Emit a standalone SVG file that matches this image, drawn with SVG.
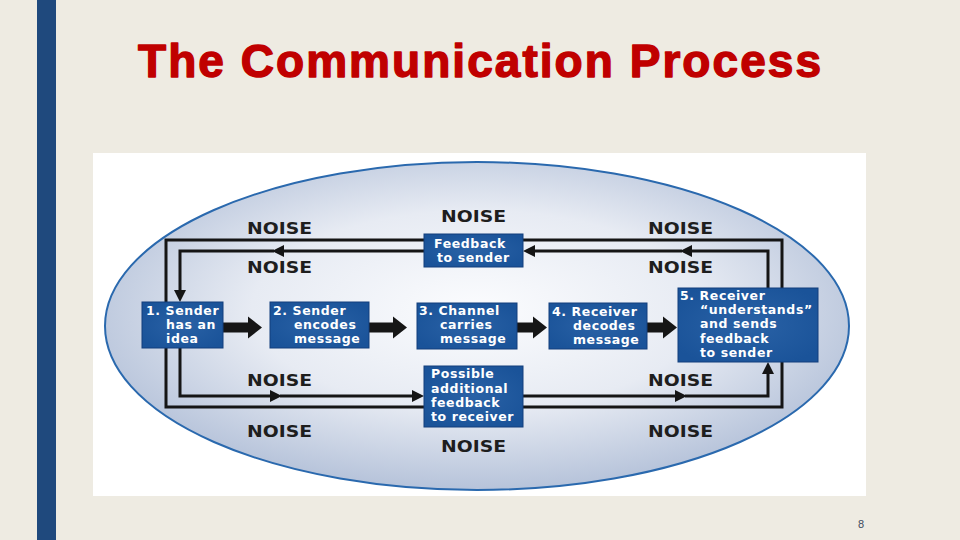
<svg xmlns="http://www.w3.org/2000/svg" width="960" height="540" viewBox="0 0 960 540">
<style>
.noise{font-family:"DejaVu Sans","Liberation Sans",sans-serif;font-weight:bold;font-size:16.5px;fill:#1e1e1e}
.bt{font-family:"DejaVu Sans","Liberation Sans",sans-serif;font-weight:bold;font-size:12.5px;fill:#ffffff;letter-spacing:0.6px}
.box{fill:url(#boxg);stroke:#123f7c;stroke-width:1}
.ln{fill:none;stroke:#151515;stroke-width:3}
.lna{fill:none;stroke:#151515;stroke-width:3;marker-end:url(#ah)}
.blk{fill:#161616}
</style>
<defs>
<radialGradient id="ellg" cx="0.5" cy="0.45" r="0.55">
<stop offset="0" stop-color="#fbfcfe"/>
<stop offset="0.55" stop-color="#e7ebf3"/>
<stop offset="1" stop-color="#b6c3da"/>
</radialGradient>
<radialGradient id="boxg" cx="0.5" cy="0.5" r="0.6">
<stop offset="0" stop-color="#2a62a6"/>
<stop offset="1" stop-color="#1a5399"/>
</radialGradient>
<marker id="ah" viewBox="0 0 12 12" refX="8" refY="6" markerWidth="12" markerHeight="12" markerUnits="userSpaceOnUse" orient="auto">
<path d="M0,0 L12,6 L0,12 z" fill="#151515"/>
</marker>
</defs>
<rect x="0" y="0" width="960" height="540" fill="#eeebe2"/>
<rect x="37" y="0" width="19" height="540" fill="#1f497d"/>
<text x="138" y="77" font-family="'Liberation Sans',Arial,sans-serif" font-weight="bold" font-size="46" fill="#c00000" stroke="#c00000" stroke-width="1.4" stroke-linejoin="round" textLength="683" lengthAdjust="spacing">The Communication Process</text>
<rect x="93" y="153" width="773" height="343" fill="#ffffff"/>
<ellipse cx="477" cy="326" rx="372" ry="164" fill="url(#ellg)" stroke="#2a69ae" stroke-width="2"/>

<g id="noise-labels">
<text class="noise" x="247" y="234" textLength="65" lengthAdjust="spacingAndGlyphs">NOISE</text>
<text class="noise" x="441" y="222" textLength="65" lengthAdjust="spacingAndGlyphs">NOISE</text>
<text class="noise" x="648" y="234" textLength="65" lengthAdjust="spacingAndGlyphs">NOISE</text>
<text class="noise" x="247" y="273" textLength="65" lengthAdjust="spacingAndGlyphs">NOISE</text>
<text class="noise" x="648" y="273" textLength="65" lengthAdjust="spacingAndGlyphs">NOISE</text>
<text class="noise" x="247" y="386" textLength="65" lengthAdjust="spacingAndGlyphs">NOISE</text>
<text class="noise" x="648" y="386" textLength="65" lengthAdjust="spacingAndGlyphs">NOISE</text>
<text class="noise" x="247" y="437" textLength="65" lengthAdjust="spacingAndGlyphs">NOISE</text>
<text class="noise" x="648" y="437" textLength="65" lengthAdjust="spacingAndGlyphs">NOISE</text>
<text class="noise" x="441" y="452" textLength="65" lengthAdjust="spacingAndGlyphs">NOISE</text>
</g>

<g id="connectors">
<path class="ln" d="M166,240 H782 V407 H166 Z"/>
<path class="lna" d="M768,288 V251 H684"/>
<path class="lna" d="M682,251 H527"/>
<path class="lna" d="M424,251 H276"/>
<path class="lna" d="M274,251 H180 V298"/>
<path class="lna" d="M180,348 V396 H278"/>
<path class="lna" d="M280,396 H420"/>
<path class="lna" d="M523,396 H683"/>
<path class="lna" d="M685,396 H768 V366"/>
<polygon class="blk" points="223,322.5 248,322.5 248,316.5 262,327.5 248,338.5 248,332.5 223,332.5"/>
<polygon class="blk" points="369,322.5 393,322.5 393,316.5 407,327.5 393,338.5 393,332.5 369,332.5"/>
<polygon class="blk" points="517,322.5 533,322.5 533,316.5 547,327.5 533,338.5 533,332.5 517,332.5"/>
<polygon class="blk" points="647,322.5 663,322.5 663,316.5 677,327.5 663,338.5 663,332.5 647,332.5"/>
</g>

<g id="node-1">
<rect class="box" x="142" y="302" width="81" height="46"/>
<text class="bt" x="146" y="315">1. Sender</text>
<text class="bt" x="166" y="329">has an</text>
<text class="bt" x="166" y="343">idea</text>
</g>
<g id="node-2">
<rect class="box" x="270" y="302" width="99" height="46"/>
<text class="bt" x="273" y="315">2. Sender</text>
<text class="bt" x="294" y="329">encodes</text>
<text class="bt" x="294" y="343">message</text>
</g>
<g id="node-3">
<rect class="box" x="417" y="303" width="100" height="46"/>
<text class="bt" x="419" y="315">3. Channel</text>
<text class="bt" x="440" y="329">carries</text>
<text class="bt" x="440" y="343">message</text>
</g>
<g id="node-4">
<rect class="box" x="549" y="303" width="98" height="46"/>
<text class="bt" x="552" y="316">4. Receiver</text>
<text class="bt" x="573" y="330">decodes</text>
<text class="bt" x="573" y="344">message</text>
</g>
<g id="node-5">
<rect class="box" x="678" y="288" width="140" height="74"/>
<text class="bt" x="680" y="300">5. Receiver</text>
<text class="bt" x="700" y="314">“understands”</text>
<text class="bt" x="700" y="328">and sends</text>
<text class="bt" x="700" y="343">feedback</text>
<text class="bt" x="700" y="357">to sender</text>
</g>
<g id="node-feedback-sender">
<rect class="box" x="424" y="234" width="99" height="33"/>
<text class="bt" x="434" y="248">Feedback</text>
<text class="bt" x="437" y="262">to sender</text>
</g>
<g id="node-feedback-receiver">
<rect class="box" x="424" y="366" width="99" height="61"/>
<text class="bt" x="431" y="378">Possible</text>
<text class="bt" x="431" y="393">additional</text>
<text class="bt" x="431" y="407">feedback</text>
<text class="bt" x="431" y="421">to receiver</text>
</g>

<text x="858" y="528" font-family="'Liberation Sans',Arial,sans-serif" font-size="11" fill="#3c4a5c">8</text>
</svg>
